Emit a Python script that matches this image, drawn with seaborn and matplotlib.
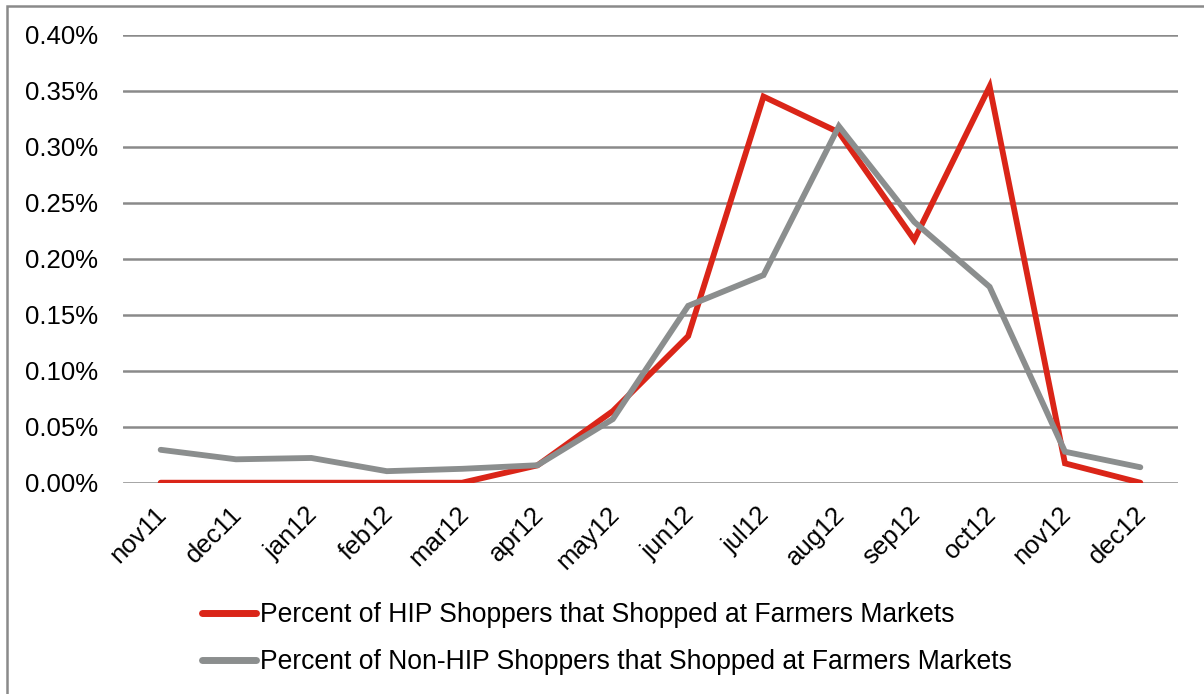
import matplotlib
matplotlib.use("Agg")
import matplotlib.pyplot as plt
import matplotlib.transforms as mtransforms
import seaborn as sns
import pandas as pd
from matplotlib.patches import Rectangle
from matplotlib.lines import Line2D
from matplotlib.ticker import FuncFormatter

months = ["nov11", "dec11", "jan12", "feb12", "mar12", "apr12", "may12",
          "jun12", "jul12", "aug12", "sep12", "oct12", "nov12", "dec12"]
hip = [0.0, 0.0, 0.0, 0.0, 0.0, 0.0155, 0.064, 0.131, 0.345, 0.313,
       0.217, 0.354, 0.0173, 0.0]
non_hip = [0.0294, 0.0209, 0.0221, 0.0103, 0.0124, 0.0156, 0.0568, 0.158,
           0.1855, 0.3185, 0.233, 0.175, 0.0277, 0.0138]
series_names = ["Percent of HIP Shoppers that Shopped at Farmers Markets",
                "Percent of Non-HIP Shoppers that Shopped at Farmers Markets"]
colors = ["#DA2518", "#8B8E8E"]

rows = []
for i, m in enumerate(months):
    rows.append({"pos": i, "month": m, "value": hip[i], "series": series_names[0]})
for i, m in enumerate(months):
    rows.append({"pos": i, "month": m, "value": non_hip[i], "series": series_names[1]})
df = pd.DataFrame(rows)

sns.set_theme(style="white")
plt.rcParams["font.family"] = ["Liberation Sans", "DejaVu Sans"]
plt.rcParams["text.color"] = "black"

fig = plt.figure(figsize=(12.04, 6.94), dpi=100)
ax = fig.add_axes([123/1204, 1-482.7/694, (1178-123)/1204, (482.7-35)/694])

sns.lineplot(data=df, x="pos", y="value", hue="series", palette=colors,
             linewidth=4.2, ax=ax, legend=False, sort=False,
             solid_capstyle="round", solid_joinstyle="miter", zorder=3)

ax.set_ylim(0, 0.40)
ax.set_xlim(-0.5, 13.5)
ax.set_yticks([0.0, 0.05, 0.10, 0.15, 0.20, 0.25, 0.30, 0.35, 0.40])
ax.yaxis.set_major_formatter(FuncFormatter(lambda v, p: f"{v:.2f}%"))
ax.set_xticks(range(len(months)))
ax.set_xticklabels(months, rotation=45, ha="right", rotation_mode="anchor")
ax.tick_params(axis="both", length=0, labelsize=18.5, colors="black")
ax.tick_params(axis="y", pad=18)
ax.tick_params(axis="x", pad=14)
offset = mtransforms.ScaledTranslation(-6/100, 0, fig.dpi_scale_trans)
for lbl in ax.get_xticklabels():
    lbl.set_transform(lbl.get_transform() + offset)
ax.grid(axis="y", color="#8A8A8A", linewidth=1.8, zorder=0)
ax.grid(axis="x", visible=False)
for s in ax.spines.values():
    s.set_visible(False)
ax.set_xlabel("")
ax.set_ylabel("")

handles = [Line2D([0], [0], color=c, linewidth=5, solid_capstyle="round") for c in colors]
leg = fig.legend(handles, series_names, loc="upper left",
                 bbox_to_anchor=(202/1204, 1-602/694), frameon=False,
                 fontsize=19.1, handlelength=2.05, handletextpad=0.12,
                 labelspacing=0.8, borderpad=0, borderaxespad=0)
for t in leg.get_texts():
    t.set_color("black")

fig.patches.append(Rectangle((7/1204, -0.05), 1.2, 1-6/694+0.05,
                             transform=fig.transFigure, fill=False,
                             edgecolor="#8A8A8A", linewidth=1.8, zorder=10))

fig.savefig("out.png", dpi=100)
